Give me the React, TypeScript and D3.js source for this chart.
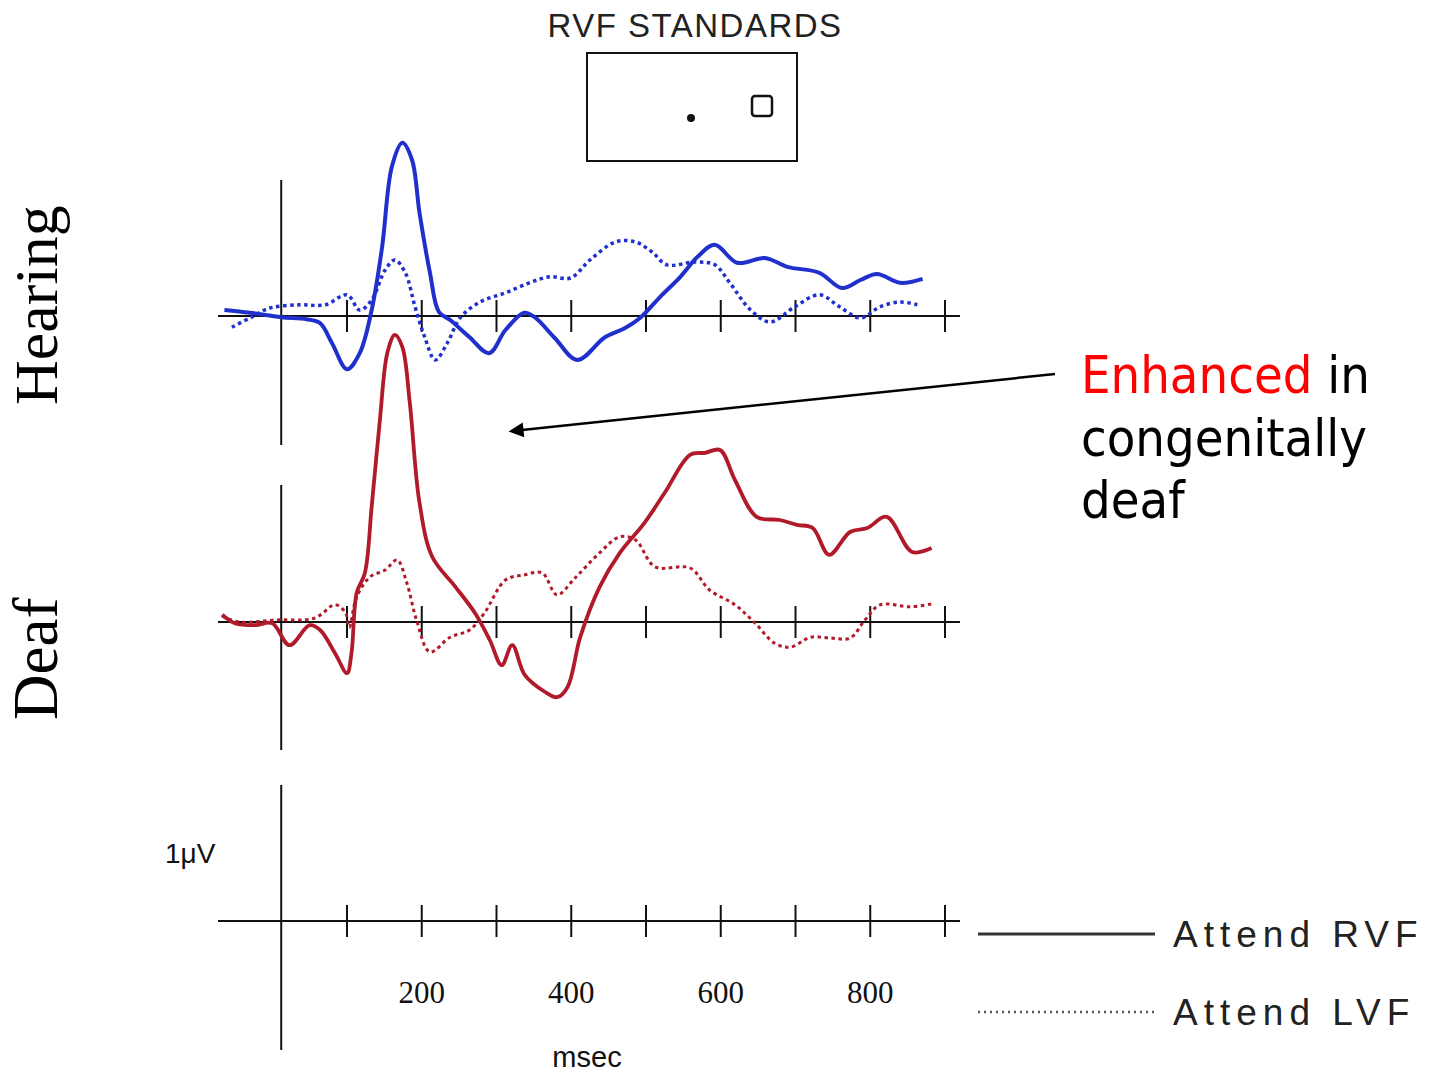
import React from "react";
import * as d3 from "d3";

// ERP traces, time in ms, amplitude in microvolts (positive = up)
const hearingAttendRVF: [number, number][] = [
  [-64, 0.15], [-30, 0.08], [12, -0.03], [46, -0.08], [64, -0.18], [80, -0.68],
  [100, -1.33], [117, -0.93], [133, 0.15], [147, 1.73], [160, 3.73], [174, 4.33],
  [187, 3.9], [197, 2.58], [211, 1.08], [223, 0.1], [238, -0.1], [264, -0.53],
  [290, -0.93], [312, -0.35], [337, 0.08], [351, -0.03], [378, -0.55], [408, -1.1],
  [445, -0.53], [472, -0.3], [492, -0.05], [519, 0.48], [546, 0.98], [569, 1.48],
  [592, 1.78], [622, 1.33], [659, 1.45], [689, 1.23], [732, 1.08], [762, 0.7],
  [787, 0.9], [809, 1.05], [840, 0.83], [870, 0.93],
];

const hearingAttendLVF: [number, number][] = [
  [-54, -0.28], [-30, -0.05], [-3, 0.2], [37, 0.28], [71, 0.28], [100, 0.53],
  [117, 0.15], [133, 0.4], [151, 1.15], [164, 1.4], [178, 1.08], [191, 0.23],
  [204, -0.53], [218, -1.1], [234, -0.68], [252, -0.03], [278, 0.35], [312, 0.58],
  [344, 0.83], [371, 0.98], [399, 0.95], [425, 1.4], [459, 1.85], [486, 1.85],
  [508, 1.6], [528, 1.28], [566, 1.35], [592, 1.28], [612, 0.83], [640, 0.15],
  [666, -0.15], [699, 0.23], [732, 0.53], [759, 0.23], [787, -0.05], [813, 0.23],
  [840, 0.35], [863, 0.28],
];

const deafAttendRVF: [number, number][] = [
  [-67, 0.18], [-50, -0.03], [-23, -0.08], [0, -0.03], [23, -0.58], [50, -0.08],
  [64, -0.2], [84, -0.78], [100, -1.28], [106, -0.78], [113, 0.73], [124, 1.23],
  [133, 2.88], [144, 5.05], [154, 6.73], [164, 7.18], [174, 6.88], [184, 5.48],
  [197, 2.98], [214, 1.63], [245, 0.88], [271, 0.23], [291, -0.45], [307, -1.08],
  [321, -0.58], [338, -1.33], [365, -1.75], [381, -1.88], [395, -1.63], [412, -0.38],
  [438, 0.88], [465, 1.73], [498, 2.48], [525, 3.23], [559, 4.18], [579, 4.23],
  [599, 4.3], [619, 3.55], [648, 2.63], [679, 2.55], [702, 2.43], [723, 2.35],
  [745, 1.68], [773, 2.25], [796, 2.35], [822, 2.63], [856, 1.75], [882, 1.85],
];

const deafAttendLVF: [number, number][] = [
  [-67, 0.15], [-44, 0], [4, 0.05], [57, 0.1], [84, 0.43], [98, 0.23],
  [103, -0.13], [113, 0.63], [131, 1.13], [151, 1.3], [167, 1.55], [180, 0.98],
  [193, 0.05], [211, -0.75], [238, -0.38], [264, -0.2], [284, 0.23], [312, 1.05],
  [338, 1.18], [361, 1.23], [381, 0.68], [405, 1.1], [438, 1.73], [465, 2.13],
  [486, 2.05], [512, 1.38], [559, 1.35], [585, 0.8], [619, 0.43], [646, -0.03],
  [672, -0.53], [693, -0.63], [720, -0.38], [746, -0.4], [773, -0.4], [793, 0.05],
  [813, 0.43], [853, 0.38], [882, 0.45],
];

const tickTimes = [100, 200, 300, 400, 500, 600, 700, 800, 900];
const tickLabels = [200, 400, 600, 800];
const legendLabels = ["Attend RVF", "Attend LVF"];
const onsetTime = 12; // where the vertical (amplitude) axis sits

const BLUE = "#1f30cc";
const RED = "#b01a2a";

const x = d3.scaleLinear().domain([100, 900]).range([347, 945]);
const PX_PER_UV = 40;

function yScale(base: number) {
  return d3.scaleLinear().domain([0, 1]).range([base, base - PX_PER_UV]);
}

function Panel({ base, top, bottom }: { base: number; top: number; bottom: number }) {
  return (
    <g stroke="#111" strokeWidth={2}>
      <line x1={x(onsetTime)} x2={x(onsetTime)} y1={top} y2={bottom} />
      <line x1={218} x2={960} y1={base} y2={base} />
      {tickTimes.map((t) => (
        <line key={t} x1={x(t)} x2={x(t)} y1={base - 16} y2={base + 16} />
      ))}
    </g>
  );
}

function Trace({ data, base, color, dotted, width }: {
  data: [number, number][]; base: number; color: string; dotted?: boolean; width: number;
}) {
  const y = yScale(base);
  const line = d3
    .line<[number, number]>()
    .x((d) => x(d[0]))
    .y((d) => y(d[1]))
    .curve(d3.curveCatmullRom.alpha(0.5));
  return (
    <path
      d={line(data) || ""}
      fill="none"
      stroke={color}
      strokeWidth={width}
      strokeDasharray={dotted ? "3.5 3.5" : undefined}
      strokeLinejoin="round"
    />
  );
}

export default function App() {
  const hBase = 316;
  const dBase = 622;
  const bBase = 921;
  const sans = "'Liberation Sans', Arial, sans-serif";
  const serif = "'Liberation Serif', 'Times New Roman', serif";
  const callout = "'DejaVu Sans Condensed', 'DejaVu Sans', sans-serif";

  return (
    <svg
      width={1439}
      height={1072}
      style={{ position: "absolute", left: 0, top: 0, background: "#fff" }}
    >
      <defs>
        <marker id="arrowHead" viewBox="0 0 10 10" refX="1" refY="5" markerWidth="7" markerHeight="6" orient="auto-start-reverse">
          <path d="M0,0 L10,5 L0,10 z" fill="#000" />
        </marker>
      </defs>

      {/* stimulus inset */}
      <text x={695} y={37} textAnchor="middle" fontFamily={sans} fontSize={33} fill="#222" letterSpacing={1.5}>
        RVF STANDARDS
      </text>
      <rect x={587} y={53} width={210} height={108} fill="none" stroke="#111" strokeWidth={2} />
      <circle cx={691} cy={118} r={4} fill="#111" />
      <rect x={752} y={96} width={20} height={20} rx={3} fill="none" stroke="#111" strokeWidth={2.5} />

      {/* group labels */}
      <text transform="translate(57,405) rotate(-90)" fontFamily={serif} fontSize={62} fill="#000">
        Hearing
      </text>
      <text transform="translate(57,720) rotate(-90)" fontFamily={serif} fontSize={63} fill="#000">
        Deaf
      </text>

      <Panel base={hBase} top={180} bottom={445} />
      <Panel base={dBase} top={485} bottom={750} />
      <Panel base={bBase} top={785} bottom={1050} />

      <Trace data={hearingAttendLVF} base={hBase} color={BLUE} dotted width={3.5} />
      <Trace data={hearingAttendRVF} base={hBase} color={BLUE} width={4} />
      <Trace data={deafAttendLVF} base={dBase} color={RED} dotted width={3} />
      <Trace data={deafAttendRVF} base={dBase} color={RED} width={3.8} />

      {/* calibration & axis labels */}
      <text x={165} y={863} fontFamily={sans} fontSize={28} fill="#111" style={{ fontStretch: "condensed" }}>
        1μV
      </text>
      {tickLabels.map((t) => (
        <text key={t} x={x(t)} y={1003} textAnchor="middle" fontFamily={serif} fontSize={31} fill="#111">
          {t}
        </text>
      ))}
      <text x={587} y={1067} textAnchor="middle" fontFamily={sans} fontSize={29} fill="#111">
        msec
      </text>

      {/* legend */}
      <line x1={978} x2={1155} y1={934} y2={934} stroke="#333" strokeWidth={3} />
      <line x1={978} x2={1155} y1={1012} y2={1012} stroke="#555" strokeWidth={2.5} strokeDasharray="2 4" />
      {legendLabels.map((l, i) => (
        <text key={l} x={1173} y={947 + i * 78} fontFamily={sans} fontSize={37} fill="#222" letterSpacing={6}>
          {l}
        </text>
      ))}

      {/* callout */}
      <line x1={1055} y1={374} x2={522} y2={430} stroke="#000" strokeWidth={2.5} markerEnd="url(#arrowHead)" />
      <text x={1081} y={393} fontFamily={callout} fontSize={52} style={{ fontStretch: "condensed" }}>
        <tspan fill="#ff0000">Enhanced</tspan>
        <tspan fill="#000"> in</tspan>
      </text>
      <text x={1081} y={456} fontFamily={callout} fontSize={52} fill="#000" style={{ fontStretch: "condensed" }}>
        congenitally
      </text>
      <text x={1081} y={518} fontFamily={callout} fontSize={52} fill="#000" style={{ fontStretch: "condensed" }}>
        deaf
      </text>
    </svg>
  );
}
